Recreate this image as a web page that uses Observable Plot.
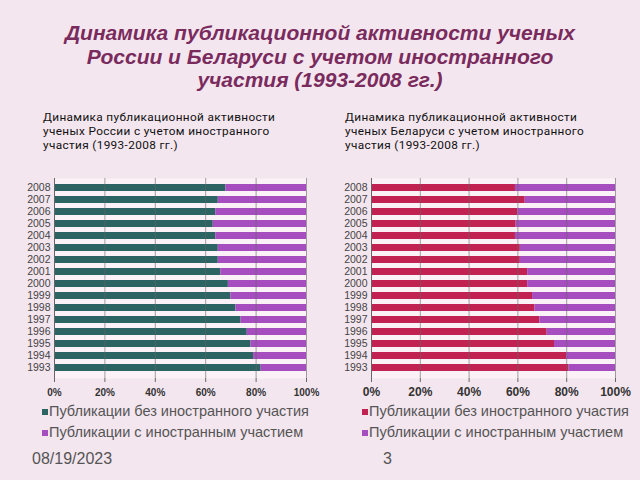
<!DOCTYPE html>
<html><head><meta charset="utf-8">
<script src="https://cdn.jsdelivr.net/npm/d3@7"></script>
<script src="https://cdn.jsdelivr.net/npm/@observablehq/plot@0.6"></script>
<style>
body{margin:0;width:640px;height:480px;background:#f4e6ef;position:relative;overflow:hidden;font-family:"Liberation Sans",Arial,sans-serif;}
.abs{position:absolute;}
#title{left:0;top:21px;width:640px;text-align:center;font-size:21px;font-weight:bold;font-style:italic;color:#7a2b5d;line-height:23.5px;}
.sub{font-family:Roboto,sans-serif;font-size:11.8px;line-height:14.2px;letter-spacing:0.35px;color:#111;width:300px;}
.leg{font-size:14.5px;color:#555;line-height:21px;}
.sw{display:inline-block;width:6px;height:6px;margin-right:1px;vertical-align:1px;}
.foot{font-size:16px;color:#555;top:450px;}
</style></head>
<body>
<div id="title" class="abs">Динамика публикационной активности ученых<br>России и Беларуси с учетом иностранного<br>участия (1993-2008 гг.)</div>
<div class="abs sub" style="left:43px;top:110px;">Динамика публикационной активности<br>ученых России с учетом иностранного<br>участия (1993-2008 гг.)</div>
<div class="abs sub" style="left:345px;top:110px;">Динамика публикационной активности<br>ученых Беларуси с учетом иностранного<br>участия (1993-2008 гг.)</div>
<div id="left" class="abs" style="left:0;top:170px;"></div>
<div id="right" class="abs" style="left:320px;top:170px;"></div>
<div id="legL" class="abs leg" style="left:42px;top:401px;"></div>
<div id="legR" class="abs leg" style="left:362px;top:401px;"></div>
<div class="abs foot" style="left:32px;">08/19/2023</div>
<div class="abs foot" style="left:383px;">3</div>
<script>
const years = ["1993","1994","1995","1996","1997","1998","1999","2000","2001","2002","2003","2004","2005","2006","2007","2008"];
const seriesNames = ["Публикации без иностранного участия","Публикации с иностранным участием"];
const ruDomestic = [82,79,78,76.5,74,72,70,69,66,65,65,64,63,64,65,68];
const ruForeign  = [18,21,22,23.5,26,28,30,31,34,35,35,36,37,36,35,32];
const byDomestic = [81,80,75,72,69,67,66,64,64,61,61,59,59.3,60,63,59];
const byForeign  = [19,20,25,28,31,33,34,36,36,39,39,41,40.7,40,37,41];
const xTicks = [0,20,40,60,80,100];
const ruColors = ["#2b6463","#a64dbf"];
const byColors = ["#c22251","#a64dbf"];

function rows(dom, forn){
  const r=[];
  years.forEach((y,i)=>{r.push({year:y,series:seriesNames[0],value:dom[i]});r.push({year:y,series:seriesNames[1],value:forn[i]});});
  return r;
}
function chart(data, colors, o){
  return Plot.plot({
    width:320, height:230,
    marginLeft:o.ml, marginRight:o.mr, marginTop:o.mt, marginBottom:o.mb,
    style:{background:"transparent",fontFamily:"Liberation Sans, Arial, sans-serif",color:"#333"},
    x:{domain:[0,100], label:null},
    y:{domain:years.slice().reverse(), padding:0.38, label:null},
    color:{domain:seriesNames, range:colors},
    marks:[
      Plot.frame({fill:"#fbf2f7",stroke:null}),
      Plot.barX(data,{x:"value",y:"year",fill:"series",order:seriesNames}),
      Plot.gridX(xTicks,{stroke:"#666",strokeOpacity:0.6}),
      Plot.ruleX([0],{stroke:"#666"}),
      Plot.axisX(xTicks,{label:null,tickFormat:d=>d+"%",fontSize:o.xfs,fontWeight:"bold",tickSize:4,tickPadding:o.xpad,stroke:"#666",fill:"#333"}),
      Plot.axisY({label:null,tickSize:0,tickPadding:4,fontSize:o.yfs,fill:"#444"})
    ]
  });
}
document.getElementById("left").append(chart(rows(ruDomestic,ruForeign), ruColors, {ml:54,mr:14,mt:8,mb:22,xfs:10,yfs:10.5,xpad:6}));
document.getElementById("right").append(chart(rows(byDomestic,byForeign), byColors, {ml:51,mr:25,mt:8,mb:22,xfs:12,yfs:10.5,xpad:5}));

function legend(id, colors){
  const el=document.getElementById(id);
  seriesNames.forEach((s,i)=>{
    const d=document.createElement("div");
    d.innerHTML='<span class="sw" style="background:'+colors[i]+'"></span>'+s;
    el.append(d);
  });
}
legend("legL", ruColors);
legend("legR", byColors);
</script>
</body></html>
